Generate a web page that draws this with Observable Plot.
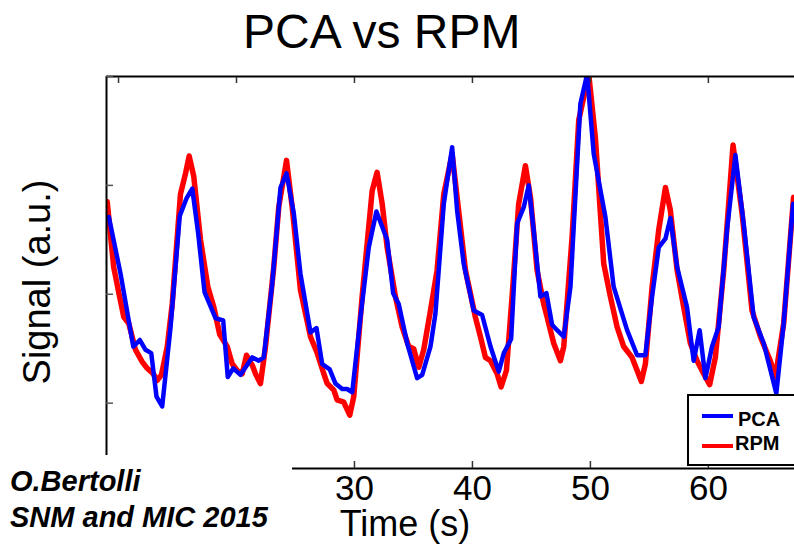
<!DOCTYPE html>
<html>
<head>
<meta charset="utf-8">
<script src="https://cdn.jsdelivr.net/npm/d3@7"></script>
<script src="https://cdn.jsdelivr.net/npm/@observablehq/plot@0.6"></script>
<style>
  body { margin: 0; background: #fff; }
  #wrap { position: relative; width: 794px; height: 544px; overflow: hidden; font-family: "Liberation Sans", Arial, sans-serif; }
  #chart { position: absolute; left: 0; top: 0; }
  .t { position: absolute; white-space: nowrap; line-height: 1; color: #000; }
  #cover { position: absolute; left: 0; top: 455px; width: 292px; height: 89px; background: #fff; }
  #legend { position: absolute; left: 687px; top: 394px; width: 130px; height: 68px; border: 2px solid #000; background: #fff; }
  .lg-line { position: absolute; height: 4px; }
  .lg-text { position: absolute; font-weight: bold; font-size: 20px; line-height: 1; }
</style>
</head>
<body>
<div id="wrap">
  <div id="chart"></div>
  <div class="t" style="left:243px; top:8px; font-size:48px;">PCA vs RPM</div>
  <div class="t" style="left:37px; top:282px; font-size:38px; transform: translate(-50%,-50%) rotate(-90deg);">Signal (a.u.)</div>
  <div id="cover"></div>
  <div class="t" style="left:405px; top:506px; font-size:36px; transform: translateX(-50%);">Time (s)</div>
  <div class="t" style="left:10px; top:467px; font-size:29px; font-weight:bold; font-style:italic;">O.Bertolli</div>
  <div class="t" style="left:10px; top:503px; font-size:29px; font-weight:bold; font-style:italic;">SNM and MIC 2015</div>
  <div id="legend"></div>
</div>
<script>
// ---- data ----
const pcaTime = [9.18,10.17,11.25,11.81,12.29,12.77,13.22,13.70,14.41,15.19,15.76,16.25,16.75,17.29,18.22,18.87,19.26,19.72,20.34,21.33,21.89,22.31,23.03,23.73,24.24,24.86,25.42,26.27,26.78,27.26,27.90,28.39,28.96,29.38,29.81,30.51,31.21,31.86,32.35,32.77,33.28,33.75,34.47,35.31,35.74,36.44,36.86,37.57,38.28,38.70,39.26,40.11,40.82,41.53,42.23,42.66,43.28,43.79,44.35,44.77,45.19,45.76,46.27,46.75,47.18,47.74,48.31,49.15,49.72,50.28,51.27,51.97,53.11,53.96,54.66,55.23,55.79,56.36,56.78,57.35,58.19,58.75,59.26,59.75,60.31,60.87,61.58,62.29,62.99,63.84,64.69,65.76,66.38,67.18];
const pcaSignal = [1.71,1.19,0.52,0.58,0.49,0.46,0.06,-0.03,0.70,1.72,1.88,1.97,1.56,1.02,0.78,0.76,0.24,0.32,0.26,0.42,0.39,0.42,1.10,1.98,2.11,1.74,1.19,0.65,0.69,0.36,0.31,0.18,0.13,0.13,0.10,0.79,1.43,1.76,1.62,1.50,1.01,0.91,0.55,0.23,0.26,0.52,0.82,1.83,2.35,1.77,1.28,0.85,0.81,0.52,0.29,0.46,0.59,1.65,1.80,2.00,1.59,0.98,1.01,0.72,0.67,0.61,1.07,2.75,3.02,2.29,1.71,1.07,0.67,0.44,0.44,0.98,1.43,1.51,1.70,1.25,0.88,0.39,0.67,0.23,0.52,0.70,1.59,2.28,1.65,0.79,0.55,0.09,0.73,1.83];

const rpmTime = [9.04,9.59,10.03,10.45,10.87,11.44,12.01,12.43,12.94,13.28,13.64,14.13,14.55,15.25,15.68,15.99,16.38,16.95,17.57,18.08,18.58,19.21,19.64,20.06,20.48,20.85,21.33,21.61,22.03,22.46,23.16,23.58,24.24,24.72,25.42,26.27,26.84,27.40,27.69,28.25,28.53,29.09,29.60,29.94,30.65,31.50,31.92,32.35,32.77,33.47,34.04,34.60,35.02,35.45,35.87,36.44,37.00,37.57,38.28,38.70,39.41,40.25,40.68,41.10,41.53,42.09,42.43,42.88,43.36,43.92,44.49,44.92,45.48,46.04,46.33,46.61,46.89,47.46,47.74,48.45,49.01,49.86,50.42,51.13,51.69,52.26,52.82,53.53,53.96,54.32,54.66,55.23,55.79,56.36,56.78,57.35,57.91,58.47,59.04,59.60,60.11,60.59,61.30,62.09,62.86,63.70,64.41,65.25,65.68,66.38,67.22];
const rpmSignal = [1.85,1.25,1.01,0.79,0.73,0.49,0.38,0.32,0.27,0.21,0.26,0.52,0.91,1.92,2.11,2.27,2.08,1.50,1.07,0.88,0.63,0.52,0.36,0.30,0.27,0.44,0.35,0.27,0.18,0.52,1.25,1.80,2.23,1.80,1.04,0.61,0.46,0.27,0.18,0.12,0.03,0.01,-0.11,0.06,0.98,1.95,2.12,1.83,1.43,0.98,0.70,0.52,0.50,0.33,0.49,0.85,1.22,1.92,2.29,1.89,1.22,0.79,0.61,0.42,0.39,0.27,0.15,0.30,0.98,1.83,2.18,1.89,1.22,0.91,0.79,0.67,0.55,0.39,0.52,1.53,2.60,3.02,2.44,1.28,0.98,0.70,0.52,0.42,0.30,0.20,0.36,1.07,1.59,1.98,1.77,1.22,0.88,0.55,0.39,0.27,0.17,0.42,1.22,2.37,1.74,0.85,0.61,0.39,0.24,0.73,1.89];

const timeTicks = [10, 20, 30, 40, 50, 60];
const timeTickLabels = [30, 40, 50, 60];
const signalTicks = [0, 1, 2, 3];
const timeDomain = [8.98, 67.3];
const signalDomain = [-0.6, 3.0];
const seriesNames = ["PCA", "RPM"];
const seriesColors = ["#0000ff", "#ff0000"];

// ---- build tables ----
const pca = pcaTime.map((t, i) => ({t, v: pcaSignal[i], s: seriesNames[0]}));
const rpm = rpmTime.map((t, i) => ({t, v: rpmSignal[i], s: seriesNames[1]}));

const chart = Plot.plot({
  width: 794,
  height: 544,
  marginLeft: 106,
  marginTop: 76,
  marginBottom: 76,
  marginRight: 0,
  x: {domain: timeDomain, label: null},
  y: {domain: signalDomain, label: null},
  style: {fontFamily: "'Liberation Sans', Arial, sans-serif", background: "transparent", color: "#000"},
  marks: [
    Plot.line(rpm, {x: "t", y: "v", stroke: seriesColors[1], strokeWidth: 5.5, clip: true}),
    Plot.line(pca, {x: "t", y: "v", stroke: seriesColors[0], strokeWidth: 4.5, clip: true}),
    // frame lines (top, bottom, left)
    Plot.ruleY([signalDomain[1]], {stroke: "#000", strokeWidth: 2}),
    Plot.ruleY([signalDomain[0]], {stroke: "#000", strokeWidth: 2}),
    Plot.ruleX([timeDomain[0]], {stroke: "#000", strokeWidth: 2}),
    Plot.axisX(timeTicks, {anchor: "top", tickSize: -6, tickFormat: () => "", stroke: "#333", strokeWidth: 1.5, label: null}),
    Plot.axisX(timeTicks, {anchor: "bottom", tickSize: -7, tickFormat: () => "", stroke: "#333", strokeWidth: 1.5, label: null}),
    Plot.axisX(timeTickLabels, {anchor: "bottom", tickSize: 0, tickPadding: 7, fontSize: 35, label: null}),
    Plot.axisY(signalTicks, {anchor: "left", tickSize: -7, tickFormat: () => "", stroke: "#555", strokeWidth: 1.5, label: null})
  ]
});
document.getElementById("chart").appendChild(chart);

// ---- legend ----
const legend = document.getElementById("legend");
seriesNames.forEach((name, i) => {
  const line = document.createElement("div");
  line.className = "lg-line";
  line.style.background = seriesColors[i];
  line.style.left = "13px";
  line.style.width = "31px";
  line.style.top = (i === 0 ? 18 : 48) + "px";
  legend.appendChild(line);
  const txt = document.createElement("div");
  txt.className = "lg-text";
  txt.textContent = name;
  txt.style.left = (i === 0 ? 49 : 46) + "px";
  txt.style.top = (i === 0 ? 13 : 37) + "px";
  legend.appendChild(txt);
});
</script>
</body>
</html>
